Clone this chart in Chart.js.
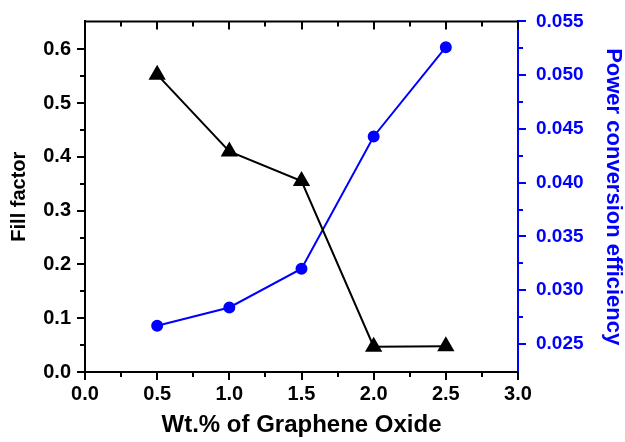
<!DOCTYPE html>
<html>
<head>
<meta charset="utf-8">
<script src="https://cdn.jsdelivr.net/npm/chart.js@4/dist/chart.umd.min.js"></script>
<style>
  body { margin: 0; background: #fff; }
  canvas { display: block; }
</style>
</head>
<body>
<canvas id="gnChart" width="625" height="442"></canvas>
<script>
// data
const wtPercent = [0.5, 1.0, 1.5, 2.0, 2.5];
const fillFactor = [0.553, 0.410, 0.355, 0.047, 0.048];
const pce = [0.0267, 0.0284, 0.0320, 0.0443, 0.0526];

const xTicks = [0.0, 0.5, 1.0, 1.5, 2.0, 2.5, 3.0];
const ffTicks = [0.0, 0.1, 0.2, 0.3, 0.4, 0.5, 0.6];
const pceTicks = [0.025, 0.030, 0.035, 0.040, 0.045, 0.050, 0.055];

const BLUE = '#0000ff';
const FONT = "'Liberation Sans', Arial, sans-serif";

function keepTicks(list) {
    return function (scale) {
        scale.ticks = list.map(v => ({ value: v }));
    };
}

// tick marks: major + minor, drawn through each scale
const tickMarks = {
    id: 'tickMarks',
    afterDraw(chart) {
        const ctx = chart.ctx;
        const a = chart.chartArea;
        const x = chart.scales.x, yl = chart.scales.y, yr = chart.scales.y1;
        const minorOf = list => list.slice(1).map((v, i) => (v + list[i]) / 2);
        ctx.save();
        ctx.lineWidth = 2;
        ctx.lineCap = 'butt';

        ctx.strokeStyle = '#000';
        // top frame
        ctx.beginPath();
        ctx.moveTo(a.left - 1, a.top);
        ctx.lineTo(a.right, a.top);
        ctx.stroke();

        [[xTicks, 8], [minorOf(xTicks), 5]].forEach(([vals, len]) => {
            vals.forEach(v => {
                const px = Math.round(x.getPixelForValue(v));
                ctx.beginPath();
                ctx.moveTo(px, a.bottom);
                ctx.lineTo(px, a.bottom + len);
                ctx.moveTo(px, a.top);
                ctx.lineTo(px, a.top + len);
                ctx.stroke();
            });
        });

        [[ffTicks, 8], [minorOf(ffTicks), 5]].forEach(([vals, len]) => {
            vals.forEach(v => {
                const py = Math.round(yl.getPixelForValue(v));
                ctx.beginPath();
                ctx.moveTo(a.left, py);
                ctx.lineTo(a.left - len, py);
                ctx.stroke();
            });
        });

        ctx.strokeStyle = BLUE;
        [[pceTicks, 8], [minorOf(pceTicks), 5]].forEach(([vals, len]) => {
            vals.forEach(v => {
                const py = Math.round(yr.getPixelForValue(v));
                ctx.beginPath();
                ctx.moveTo(a.right, py);
                ctx.lineTo(a.right + len, py);
                ctx.stroke();
            });
        });
        ctx.restore();
    }
};

const ctx = document.getElementById('gnChart').getContext('2d');
const gnChart = new Chart(ctx, {
    type: 'line',
    data: {
        datasets: [{
            label: 'Fill factor',
            data: wtPercent.map((w, i) => ({ x: w, y: fillFactor[i] })),
            yAxisID: 'y',
            borderColor: '#000',
            backgroundColor: '#000',
            borderWidth: 2,
            pointStyle: 'triangle',
            pointRadius: 8,
            pointHoverRadius: 8,
            tension: 0
        }, {
            label: 'Power conversion efficiency',
            data: wtPercent.map((w, i) => ({ x: w, y: pce[i] })),
            yAxisID: 'y1',
            borderColor: BLUE,
            backgroundColor: BLUE,
            borderWidth: 2,
            pointStyle: 'circle',
            pointRadius: 5,
            pointHoverRadius: 5,
            tension: 0
        }]
    },
    options: {
        responsive: false,
        animation: false,
        layout: { padding: { top: 15, left: 0, right: 0, bottom: 0 } },
        plugins: {
            legend: { display: false },
            tooltip: { enabled: false }
        },
        scales: {
            x: {
                type: 'linear',
                min: 0,
                max: 3,
                afterBuildTicks: keepTicks(xTicks),
                afterFit(s) { s.height = 70; },
                grid: { drawOnChartArea: false, color: 'rgba(0,0,0,0)', tickLength: 8 },
                border: { display: true, color: '#000', width: 2 },
                ticks: {
                    color: '#000',
                    padding: 2,
                    font: { family: FONT, size: 20, weight: 'bold' },
                    callback: v => v.toFixed(1)
                },
                title: {
                    display: true,
                    text: 'Wt.% of Graphene Oxide',
                    color: '#000',
                    padding: { top: 0, bottom: 5 },
                    font: { family: FONT, size: 24, weight: 'bold', lineHeight: 1 }
                }
            },
            y: {
                position: 'left',
                min: 0,
                max: 0.652,
                afterBuildTicks: keepTicks(ffTicks),
                afterFit(s) { s.width = 85; },
                grid: { drawOnChartArea: false, color: 'rgba(0,0,0,0)', tickLength: 8 },
                border: { display: true, color: '#000', width: 2 },
                ticks: {
                    color: '#000',
                    padding: 6,
                    font: { family: FONT, size: 20, weight: 'bold' },
                    callback: v => v.toFixed(1)
                },
                title: {
                    display: true,
                    text: 'Fill factor',
                    color: '#000',
                    padding: 9,
                    font: { family: FONT, size: 20, weight: 'bold', lineHeight: 1 }
                }
            },
            y1: {
                position: 'right',
                min: 0.0224,
                max: 0.055,
                afterBuildTicks: keepTicks(pceTicks),
                afterFit(s) { s.width = 107; },
                grid: { drawOnChartArea: false, color: 'rgba(0,0,0,0)', tickLength: 8 },
                border: { display: true, color: BLUE, width: 2 },
                ticks: {
                    color: BLUE,
                    padding: 10,
                    font: { family: FONT, size: 19, weight: 'bold' },
                    callback: v => v.toFixed(3)
                },
                title: {
                    display: true,
                    text: 'Power conversion efficiency',
                    color: BLUE,
                    padding: 1,
                    font: { family: FONT, size: 22, weight: 'bold', lineHeight: 1 }
                }
            }
        }
    },
    plugins: [tickMarks]
});
</script>
</body>
</html>
